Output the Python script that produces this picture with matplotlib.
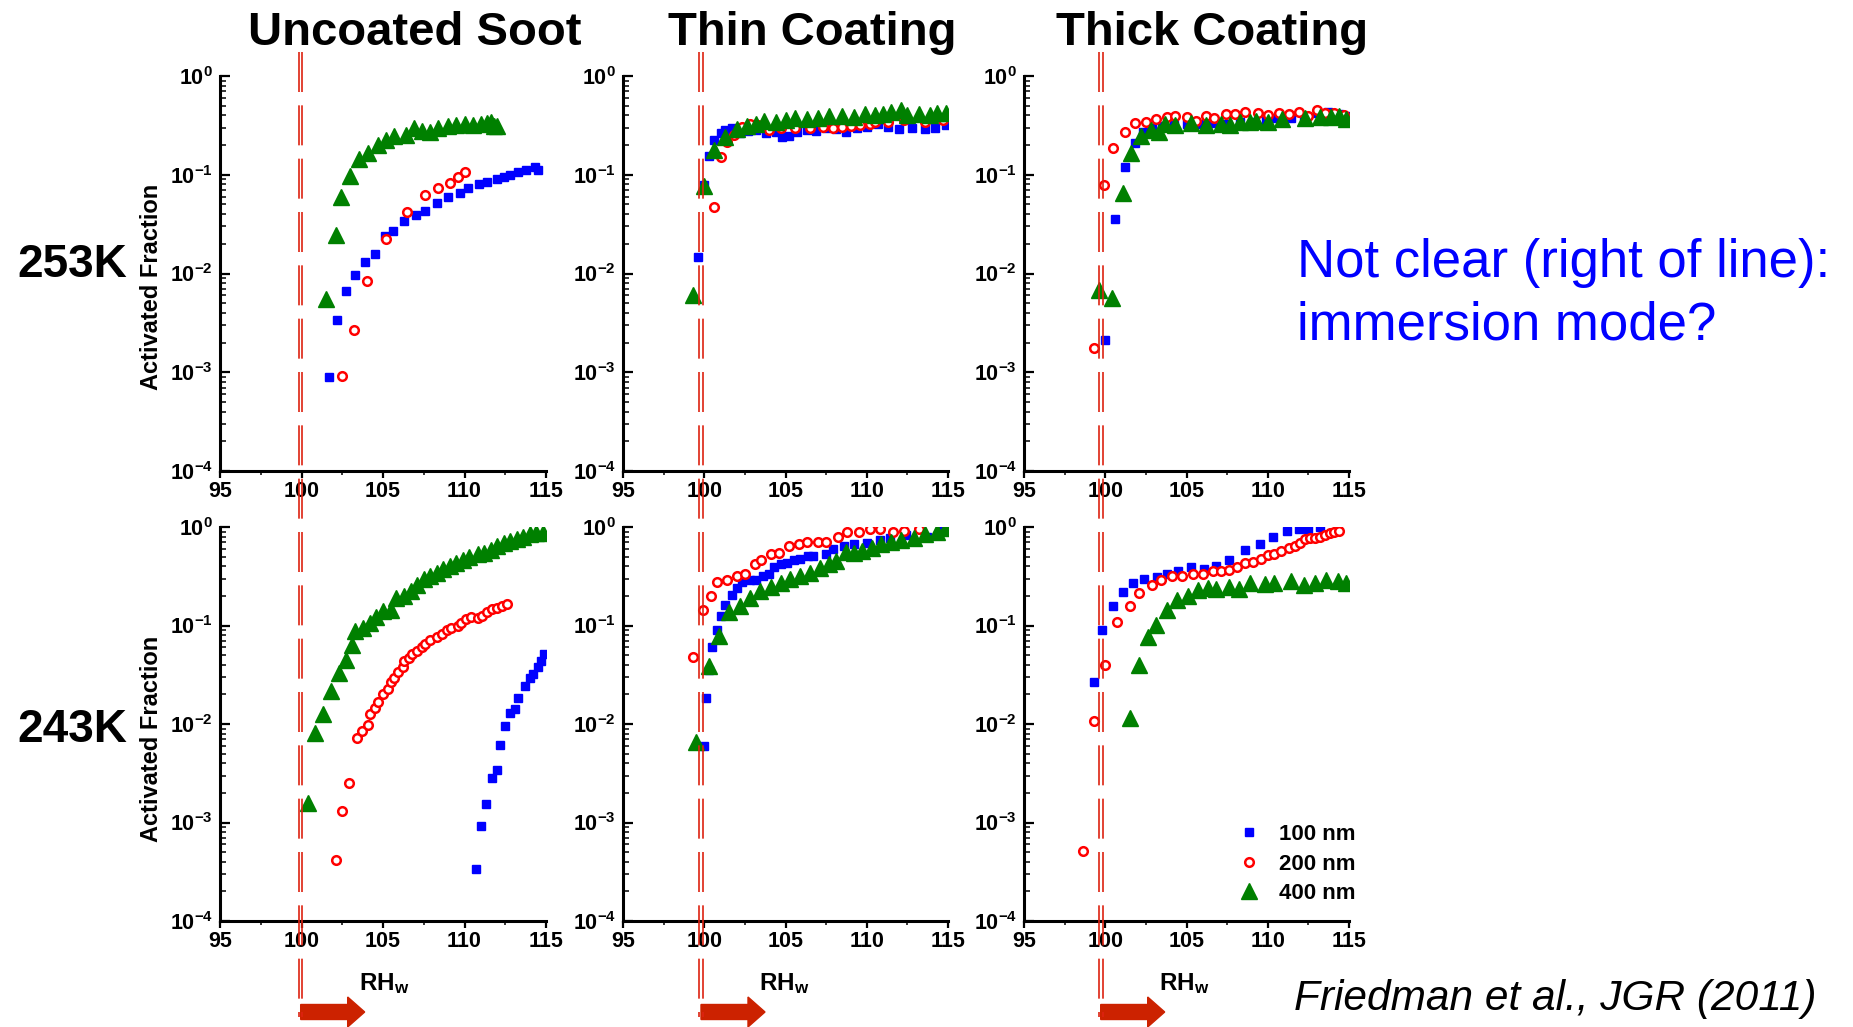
import matplotlib
import matplotlib.pyplot as plt
import matplotlib.transforms as mtransforms
import numpy as np
from matplotlib.lines import Line2D
from matplotlib.patches import FancyArrow
from matplotlib.ticker import FuncFormatter, LogLocator, MultipleLocator, NullFormatter

matplotlib.use("Agg")

plt.rcParams["font.family"] = ["Liberation Sans", "DejaVu Sans"]
plt.rcParams["font.weight"] = "bold"
plt.rcParams["mathtext.fontset"] = "custom"
plt.rcParams["mathtext.rm"] = "Liberation Sans:bold"
plt.rcParams["mathtext.bf"] = "Liberation Sans:bold"
plt.rcParams["mathtext.it"] = "Liberation Sans:bold:italic"

# ---- data (RH_w in %, activated fraction) ----
col_titles = ["Uncoated Soot", "Thin Coating", "Thick Coating"]
row_labels = ["253K", "243K"]
size_labels = ["100 nm", "200 nm", "400 nm"]
threshold_rh = [99.95, 99.8, 99.72]

# 253 K, uncoated
u253_100_rh = [101.7, 102.2, 102.7, 103.3, 103.9, 104.5, 105.1, 105.6, 106.3, 107.0, 107.6, 108.3,
               109.0, 109.7, 110.2, 110.9, 111.4, 112.0, 112.4, 112.8, 113.3, 113.8, 114.3, 114.5]
u253_100_af = [8.9e-4, 3.4e-3, 6.6e-3, 9.6e-3, 0.0132, 0.0159, 0.024, 0.027, 0.034, 0.039, 0.043, 0.052,
               0.060, 0.066, 0.073, 0.080, 0.085, 0.090, 0.094, 0.099, 0.106, 0.112, 0.119, 0.112]
u253_200_rh = [102.5, 103.2, 104.0, 105.2, 106.5, 107.6, 108.4, 109.1, 109.6, 110.0]
u253_200_af = [9.1e-4, 2.7e-3, 8.3e-3, 0.0223, 0.042, 0.063, 0.074, 0.083, 0.095, 0.107]
u253_400_rh = [101.5, 102.1, 102.4, 103.0, 103.5, 104.1, 104.7, 105.2, 105.7, 106.4, 106.9, 107.4,
               107.9, 108.4, 109.0, 109.5, 110.0, 110.5, 111.0, 111.4, 111.6, 111.8, 112.0]
u253_400_af = [5.5e-3, 0.0245, 0.060, 0.097, 0.144, 0.165, 0.20, 0.224, 0.247, 0.25, 0.295, 0.28,
               0.27, 0.295, 0.31, 0.32, 0.33, 0.32, 0.326, 0.336, 0.345, 0.31, 0.31]

# 253 K, thin coating
t253_100_rh = [99.6, 100.0, 100.3, 100.6, 101.0, 101.3, 101.7, 102.2, 102.7, 103.2, 103.8, 104.4,
               104.8, 105.2, 105.7, 106.3, 106.9, 107.5, 108.1, 108.7, 109.4, 110.0, 110.7, 111.3,
               112.0, 112.8, 113.6, 114.2, 114.9]
t253_100_af = [0.0148, 0.0785, 0.155, 0.225, 0.263, 0.284, 0.295, 0.266, 0.28, 0.284, 0.263, 0.27,
               0.243, 0.246, 0.27, 0.284, 0.28, 0.295, 0.29, 0.27, 0.295, 0.306, 0.33, 0.306,
               0.29, 0.295, 0.288, 0.30, 0.32]
t253_200_rh = [100.6, 101.0, 101.4, 101.8, 102.3, 102.8, 103.3, 104.0, 104.7, 105.6, 106.5, 107.3,
               107.9, 108.5, 109.0, 109.6, 110.2, 110.5, 111.3, 112.3, 113.6, 114.7]
t253_200_af = [0.047, 0.152, 0.216, 0.25, 0.306, 0.33, 0.32, 0.284, 0.295, 0.295, 0.295, 0.306,
               0.30, 0.306, 0.31, 0.318, 0.33, 0.345, 0.345, 0.36, 0.345, 0.36]
t253_400_rh = [99.3, 100.0, 100.6, 101.3, 102.0, 102.6, 103.2, 103.7, 104.4, 105.0, 105.6, 106.3,
               107.0, 107.7, 108.5, 109.2, 109.9, 110.5, 111.0, 111.5, 112.1, 112.5, 113.2, 113.9,
               114.3, 114.9]
t253_400_af = [6.0e-3, 0.077, 0.178, 0.243, 0.288, 0.31, 0.326, 0.35, 0.345, 0.36, 0.372, 0.365,
               0.372, 0.394, 0.394, 0.38, 0.41, 0.40, 0.41, 0.435, 0.45, 0.40, 0.41, 0.40,
               0.418, 0.418]

# 253 K, thick coating
k253_100_rh = [100.0, 100.6, 101.2, 101.8, 102.3, 102.9, 103.5, 104.2, 105.0, 105.8, 106.6, 107.5,
               108.3, 109.1, 109.9, 110.5, 111.4, 112.2, 113.0, 113.7, 114.4, 114.8]
k253_100_af = [2.1e-3, 0.0354, 0.12, 0.208, 0.273, 0.295, 0.31, 0.318, 0.33, 0.326, 0.336, 0.33,
               0.345, 0.345, 0.353, 0.372, 0.372, 0.394, 0.418, 0.435, 0.41, 0.394]
k253_200_rh = [99.3, 99.9, 100.5, 101.2, 101.8, 102.5, 103.1, 103.8, 104.3, 105.0, 105.6, 106.2,
               106.7, 107.4, 108.0, 108.6, 109.4, 110.0, 110.7, 111.3, 111.9, 112.5, 113.0, 113.5,
               114.1, 114.7]
k253_200_af = [1.78e-3, 0.0785, 0.185, 0.273, 0.336, 0.345, 0.364, 0.38, 0.394, 0.38, 0.35, 0.394,
               0.372, 0.41, 0.41, 0.435, 0.425, 0.40, 0.418, 0.41, 0.43, 0.394, 0.45, 0.418,
               0.418, 0.40]
k253_400_rh = [99.6, 100.4, 101.1, 101.6, 102.2, 102.8, 103.3, 103.7, 104.3, 105.3, 106.2, 107.1,
               107.7, 108.3, 108.9, 109.3, 110.0, 110.9, 112.3, 113.2, 113.9, 114.4, 114.8]
k253_400_af = [6.8e-3, 5.6e-3, 0.065, 0.165, 0.247, 0.284, 0.273, 0.326, 0.318, 0.336, 0.318, 0.33,
               0.318, 0.345, 0.345, 0.353, 0.345, 0.364, 0.372, 0.38, 0.387, 0.394, 0.364]

# 243 K, uncoated
u243_100_rh = [110.7, 111.0, 111.3, 111.7, 112.0, 112.2, 112.5, 112.8, 113.1, 113.3, 113.7, 114.0,
               114.2, 114.5, 114.7, 114.9]
u243_100_af = [3.35e-4, 9.3e-4, 1.53e-3, 2.85e-3, 3.45e-3, 6.1e-3, 9.5e-3, 0.0128, 0.0141, 0.0182,
               0.0243, 0.0295, 0.0325, 0.0377, 0.0437, 0.051]
u243_200_rh = [102.1, 102.5, 102.9, 103.4, 103.7, 104.1, 104.2, 104.5, 104.7, 105.0, 105.3, 105.5,
               105.7, 105.9, 106.2, 106.3, 106.6, 106.8, 107.1, 107.4, 107.6, 107.9, 108.3, 108.6,
               108.9, 109.2, 109.6, 109.8, 110.1, 110.4, 110.8, 111.1, 111.4, 111.7, 112.0, 112.3,
               112.6]
u243_200_af = [4.2e-4, 1.32e-3, 2.5e-3, 7.2e-3, 8.5e-3, 9.8e-3, 0.0127, 0.0144, 0.0167, 0.0204,
               0.0227, 0.0265, 0.0295, 0.0334, 0.038, 0.044, 0.047, 0.051, 0.055, 0.060, 0.065,
               0.072, 0.076, 0.082, 0.089, 0.095, 0.099, 0.107, 0.116, 0.122, 0.118, 0.125, 0.138,
               0.146, 0.149, 0.158, 0.164]
u243_400_rh = [100.4, 100.8, 101.3, 101.8, 102.3, 102.7, 103.1, 103.3, 103.8, 104.2, 104.6, 105.0,
               105.5, 105.8, 106.3, 106.7, 107.1, 107.5, 107.9, 108.3, 108.7, 109.1, 109.5, 109.9,
               110.3, 110.8, 111.2, 111.6, 112.0, 112.4, 112.8, 113.2, 113.6, 114.0, 114.4, 114.8]
u243_400_af = [1.58e-3, 8.1e-3, 0.0126, 0.0217, 0.033, 0.045, 0.063, 0.087, 0.094, 0.105, 0.123,
               0.14, 0.145, 0.19, 0.20, 0.224, 0.26, 0.295, 0.318, 0.345, 0.372, 0.40, 0.43, 0.46,
               0.495, 0.535, 0.55, 0.58, 0.635, 0.68, 0.72, 0.76, 0.80, 0.84, 0.87, 0.87]

# 243 K, thin coating
t243_100_rh = [100.0, 100.1, 100.3, 100.5, 100.8, 101.0, 101.3, 101.7, 102.0, 102.3, 102.8, 103.2,
               103.6, 104.0, 104.3, 104.7, 105.1, 105.5, 105.9, 106.4, 106.7, 107.5, 107.9, 108.6,
               109.2, 110.0, 110.8, 111.4, 112.4, 113.7, 114.5, 114.9]
t243_100_af = [6.0e-3, 0.0185, 0.035, 0.060, 0.091, 0.124, 0.16, 0.204, 0.24, 0.278, 0.288, 0.288,
               0.318, 0.33, 0.394, 0.42, 0.435, 0.46, 0.47, 0.51, 0.51, 0.535, 0.60, 0.645,
               0.677, 0.68, 0.73, 0.77, 0.83, 0.80, 0.94, 0.985]
t243_200_rh = [99.3, 99.9, 100.4, 100.8, 101.4, 102.0, 102.5, 103.1, 103.5, 104.1, 104.6, 105.2,
               105.8, 106.3, 107.0, 107.5, 108.2, 108.8, 109.5, 110.2, 110.8, 111.6, 112.3, 113.2]
t243_200_af = [0.048, 0.145, 0.198, 0.278, 0.29, 0.318, 0.336, 0.424, 0.465, 0.535, 0.54, 0.636,
               0.677, 0.71, 0.71, 0.71, 0.79, 0.89, 0.90, 0.96, 0.96, 0.89, 0.92, 0.96]
t243_400_rh = [99.5, 100.3, 100.9, 101.5, 102.2, 102.8, 103.4, 104.1, 104.7, 105.3, 105.9, 106.5,
               107.1, 107.7, 108.1, 108.7, 109.2, 109.7, 110.3, 110.9, 111.5, 112.1, 112.9, 113.6,
               114.3, 114.9]
t243_400_af = [6.5e-3, 0.039, 0.079, 0.137, 0.157, 0.19, 0.224, 0.245, 0.273, 0.295, 0.318, 0.345,
               0.38, 0.42, 0.45, 0.557, 0.54, 0.57, 0.61, 0.67, 0.70, 0.74, 0.78, 0.84,
               0.90, 0.985]

# 243 K, thick coating
k243_100_rh = [99.3, 99.8, 100.5, 101.1, 101.7, 102.4, 103.2, 103.8, 104.5, 105.3, 106.1, 106.8,
               107.6, 108.6, 109.5, 110.3, 111.2, 111.9, 112.5, 113.2]
k243_100_af = [0.0266, 0.091, 0.158, 0.221, 0.27, 0.295, 0.31, 0.336, 0.355, 0.394, 0.377, 0.40,
               0.46, 0.58, 0.677, 0.80, 0.92, 0.96, 0.96, 1.0]
k243_200_rh = [98.6, 99.3, 100.0, 100.7, 101.5, 102.1, 102.9, 103.4, 104.1, 104.7, 105.4, 106.0,
               106.6, 107.1, 107.6, 108.1, 108.6, 109.1, 109.6, 110.0, 110.4, 110.8, 111.3, 111.7,
               112.0, 112.3, 112.6, 112.9, 113.2, 113.5, 113.8, 114.1, 114.4]
k243_200_af = [5.1e-4, 0.0108, 0.0394, 0.109, 0.158, 0.216, 0.26, 0.288, 0.318, 0.318, 0.336, 0.336,
               0.355, 0.355, 0.364, 0.394, 0.43, 0.445, 0.475, 0.525, 0.535, 0.57, 0.617, 0.635,
               0.69, 0.75, 0.77, 0.78, 0.79, 0.83, 0.875, 0.90, 0.92]
k243_400_rh = [101.5, 102.1, 102.6, 103.1, 103.8, 104.4, 105.1, 105.7, 106.3, 106.8, 107.6, 108.2,
               108.9, 109.8, 110.4, 111.4, 112.2, 112.9, 113.6, 114.3, 114.8]
k243_400_af = [0.0116, 0.0394, 0.076, 0.102, 0.143, 0.18, 0.20, 0.227, 0.242, 0.235, 0.247, 0.235,
               0.273, 0.265, 0.27, 0.28, 0.26, 0.273, 0.288, 0.284, 0.273]

panels = [
    [[(u253_100_rh, u253_100_af), (u253_200_rh, u253_200_af), (u253_400_rh, u253_400_af)],
     [(t253_100_rh, t253_100_af), (t253_200_rh, t253_200_af), (t253_400_rh, t253_400_af)],
     [(k253_100_rh, k253_100_af), (k253_200_rh, k253_200_af), (k253_400_rh, k253_400_af)]],
    [[(u243_100_rh, u243_100_af), (u243_200_rh, u243_200_af), (u243_400_rh, u243_400_af)],
     [(t243_100_rh, t243_100_af), (t243_200_rh, t243_200_af), (t243_400_rh, t243_400_af)],
     [(k243_100_rh, k243_100_af), (k243_200_rh, k243_200_af), (k243_400_rh, k243_400_af)]],
]

# ---- layout (pixels of the 1853x1027 canvas) ----
W, H = 1853, 1027
cols_px = [(220, 546), (623, 948), (1024, 1349)]
rows_px = [(76, 471), (527, 921)]
marker_styles = [
    dict(marker="s", ms=6, color="#0000ff", mec="#0000ff", ls="none"),
    dict(marker="o", ms=6.2, mfc="white", mec="#ff0000", mew=1.8, ls="none"),
    dict(marker="^", ms=11, color="#008000", mec="#008000", ls="none"),
]
line_red = "#dd2211"
arrow_red = "#cc2200"


def fx(px):
    return px / W


def fy(py):
    return 1 - py / H


def style_axis(ax):
    ax.set_xlim(95, 115)
    ax.set_yscale("log")
    ax.set_ylim(1e-4, 1)
    ax.xaxis.set_major_locator(MultipleLocator(5))
    ax.xaxis.set_minor_locator(MultipleLocator(2.5))
    ax.yaxis.set_major_locator(LogLocator(base=10, numticks=10))
    ax.yaxis.set_minor_locator(LogLocator(base=10, subs=np.arange(2, 10), numticks=10))
    ax.yaxis.set_major_formatter(
        FuncFormatter(lambda v, _: r"$\mathbf{10^{%d}}$" % round(np.log10(v)))
    )
    ax.yaxis.set_minor_formatter(NullFormatter())
    ax.xaxis.set_major_formatter(FuncFormatter(lambda v, _: "%d" % v))
    for side in ["top", "right"]:
        ax.spines[side].set_visible(False)
    for side in ["left", "bottom"]:
        ax.spines[side].set_linewidth(2.2)
    ax.tick_params(axis="y", which="major", direction="in", length=7, width=1.6,
                   labelsize=15.5, pad=5)
    ax.tick_params(axis="y", which="minor", direction="in", length=4, width=1.1)
    ax.tick_params(axis="x", which="major", direction="out", length=5, width=1.6,
                   labelsize=15.5, pad=2)
    ax.tick_params(axis="x", which="minor", direction="out", length=3, width=1.1)


fig = plt.figure(figsize=(W / 100, H / 100), dpi=100)

axes = []
for r, (top, bottom) in enumerate(rows_px):
    row_axes = []
    for c, (left, right) in enumerate(cols_px):
        ax = fig.add_axes([fx(left), fy(bottom), fx(right - left), (bottom - top) / H])
        style_axis(ax)
        handles = []
        for (rh, af), st in zip(panels[r][c], marker_styles):
            (h,) = ax.plot(rh, af, **st)
            handles.append(h)
        row_axes.append(ax)
    axes.append(row_axes)

# legend in the bottom-right panel
axes[1][2].legend(handles, size_labels, loc="center left",
                  bbox_to_anchor=(fx(1238), fy(864)), bbox_transform=fig.transFigure,
                  frameon=False, prop={"weight": "bold", "size": 16},
                  handlelength=1.0, handletextpad=0.85, labelspacing=0.38,
                  borderpad=0, borderaxespad=0)

# threshold lines (double red dashes), arrows and RH_w labels
for c, rh0 in enumerate(threshold_rh):
    ax = axes[0][c]
    base = mtransforms.blended_transform_factory(ax.transData, fig.transFigure)
    for dx in (-1.8, 1.8):
        tr = mtransforms.offset_copy(base, fig=fig, x=dx, y=0, units="dots")
        fig.add_artist(Line2D([rh0, rh0], [fy(52), fy(1017)], transform=tr,
                              color=line_red, lw=1.2, dashes=(24, 8), clip_on=False))
    x0 = ax.transData.transform((rh0, 1))[0]
    fig.add_artist(FancyArrow(x0, H - 1012, 64, 0, width=15, head_width=30,
                              head_length=17, length_includes_head=True,
                              color=arrow_red, transform=mtransforms.IdentityTransform()))
    fig.text((x0 + 58) / W, fy(990), r"$\mathbf{RH_{w}}$", fontsize=17.5, va="baseline")

# titles and row labels
title_x = [415, 812, 1212]
for title, x in zip(col_titles, title_x):
    fig.text(fx(x), fy(33), title, fontsize=34, fontweight="bold", ha="center", va="center")
for label, y in zip(row_labels, [265, 730]):
    fig.text(fx(72), fy(y), label, fontsize=33, fontweight="bold", ha="center", va="center")
for y in [287, 739]:
    fig.text(fx(152), fy(y), "Activated Fraction", fontsize=17, fontweight="bold",
             rotation=90, ha="center", va="center")

fig.text(fx(1297), fy(277), "Not clear (right of line):", fontsize=38,
         fontweight="normal", color="#0000ff", va="baseline")
fig.text(fx(1297), fy(339), "immersion mode?", fontsize=38,
         fontweight="normal", color="#0000ff", va="baseline")
fig.text(fx(1294), fy(1010), "Friedman et al., JGR (2011)", fontsize=30.5,
         fontweight="normal", style="italic", va="baseline")

fig.savefig("out.png", dpi=100)
